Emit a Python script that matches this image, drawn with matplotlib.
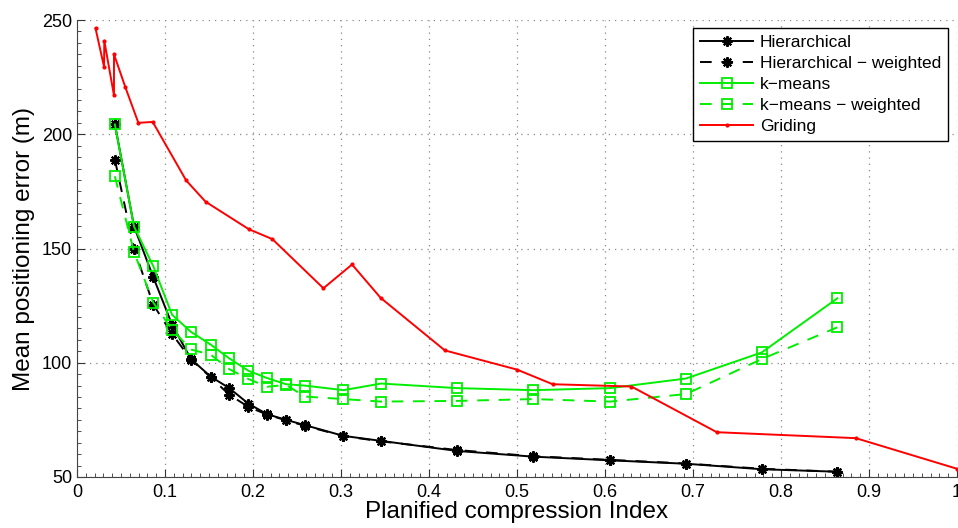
import matplotlib.pyplot as plt
from matplotlib.ticker import MultipleLocator

plt.rcParams['font.family'] = ['Liberation Sans', 'DejaVu Sans']

# compression index shared by hierarchical and k-means runs
idx = [0.043, 0.0648, 0.0867, 0.108, 0.1295, 0.152, 0.173, 0.1947, 0.216, 0.2375,
       0.259, 0.3027, 0.3455, 0.432, 0.5186, 0.6057, 0.692, 0.778, 0.864]

hier = [204.5, 159.6, 137.4, 116.7, 101.6, 93.9, 88.9, 82.1, 77.5, 75.0,
        72.7, 68.0, 65.8, 61.4, 58.9, 57.3, 55.8, 53.4, 52.3]
hier_w = [188.9, 149.9, 125.4, 112.6, 101.4, 93.6, 86.0, 80.7, 77.3, 74.8,
          72.4, 67.9, 65.6, 61.8, 59.1, 57.5, 55.9, 53.6, 52.3]
kmeans = [204.3, 159.6, 142.2, 121.0, 113.5, 107.9, 101.9, 96.5, 93.3, 90.6,
          90.0, 88.0, 90.9, 88.9, 88.0, 88.9, 93.1, 104.5, 128.2]
kmeans_w = [181.6, 148.4, 126.3, 114.5, 105.8, 103.5, 97.2, 92.9, 89.5, 90.3,
            85.2, 84.1, 83.0, 83.3, 84.1, 83.0, 86.3, 101.6, 115.5]

grid_x = [0.021, 0.0307, 0.031, 0.042, 0.042, 0.055, 0.0697, 0.086, 0.124, 0.146,
          0.195, 0.222, 0.280, 0.3125, 0.345, 0.418, 0.50, 0.5405, 0.630, 0.727,
          0.885, 1.0]
grid_y = [246.4, 229.5, 240.9, 217.0, 235.0, 220.5, 205.0, 205.4, 179.8, 170.5,
          158.5, 154.1, 132.6, 143.0, 128.4, 105.4, 97.0, 90.6, 89.6, 69.6,
          67.0, 53.6]

fig = plt.figure(figsize=(9.58, 5.28), dpi=100)
ax = fig.add_axes([0.0804, 0.0966, 0.9186, 0.8655])

star = (8, 2, 0)
ax.plot(idx, hier, color='black', lw=1.4, marker=star, ms=7.5, mew=1.5,
        label='Hierarchical')
ax.plot(idx, hier_w, color='black', lw=1.4, ls=(0, (6, 5)), marker=star, ms=7.5,
        mew=1.5, label='Hierarchical \u2212 weighted')
ax.plot(idx, kmeans, color='#00ee00', lw=1.4, marker='s', ms=6.5, mfc='none',
        mew=1.3, label='k\u2212means')
ax.plot(idx, kmeans_w, color='#00ee00', lw=1.4, ls=(0, (6, 5)), marker='s', ms=6.5,
        mfc='none', mew=1.3, label='k\u2212means \u2212 weighted')
ax.plot(grid_x, grid_y, color='red', lw=1.4, marker='.', ms=4,
        label='Griding')

ax.set_xlim(0, 1)
ax.set_ylim(50, 250)
ax.xaxis.set_minor_locator(MultipleLocator(0.01))
ax.yaxis.set_major_locator(MultipleLocator(50))
ax.yaxis.set_minor_locator(MultipleLocator(5))
ax.set_xticks([0, 0.1, 0.2, 0.3, 0.4, 0.5, 0.6, 0.7, 0.8, 0.9, 1])
ax.set_xticklabels(['0', '0.1', '0.2', '0.3', '0.4', '0.5', '0.6', '0.7', '0.8', '0.9', '1'])
ax.tick_params(which='both', direction='in', labelsize=13, colors='#333333',
               labelcolor='black', top=False, right=False)
ax.tick_params(which='major', length=6)
ax.tick_params(which='minor', length=3)
ax.tick_params(axis='x', pad=5)
ax.grid(True, which='major', ls=(0, (1, 4)), color='#888888', lw=0.9)
ax.spines['top'].set_visible(False)
ax.spines['right'].set_visible(False)
ax.spines['left'].set_color('#444444')
ax.spines['bottom'].set_color('#444444')

ax.set_xlabel('Planified compression Index', fontsize=17.5, labelpad=0)
ax.set_ylabel('Mean positioning error (m)', fontsize=17.5, labelpad=5)

leg = ax.legend(loc='upper right', bbox_to_anchor=(0.99, 0.9825), fontsize=12.5,
                handlelength=3.05, fancybox=False, framealpha=1,
                edgecolor='black', borderpad=0.4, labelspacing=0.33,
                handletextpad=0.4, borderaxespad=0)
leg.get_frame().set_linewidth(1.0)

fig.savefig('out.png', dpi=100)
